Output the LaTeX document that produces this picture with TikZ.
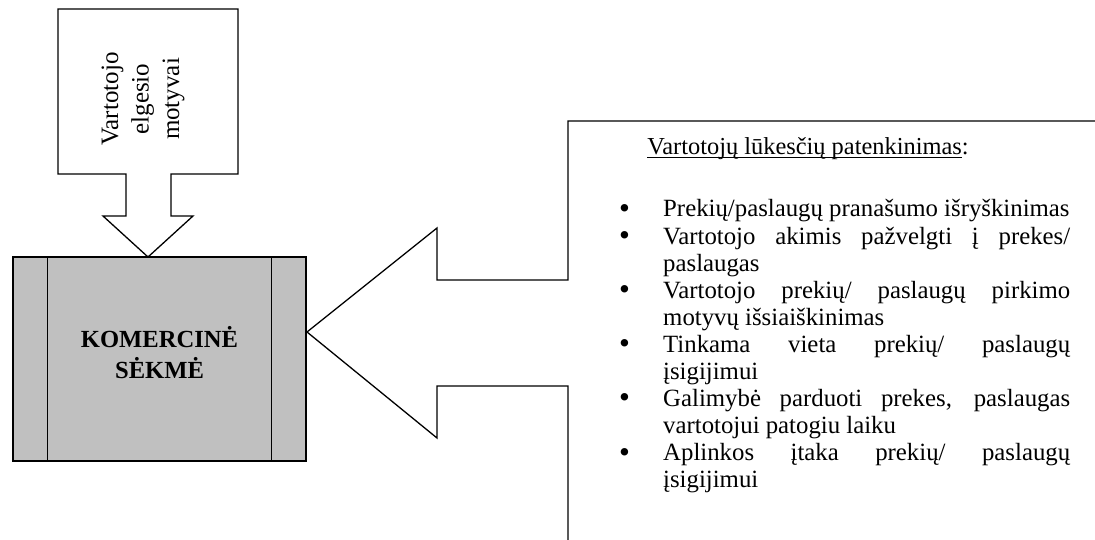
\documentclass[tikz,border=0pt]{standalone}
\usepackage{fontspec}
\usepackage{graphicx}
\setmainfont{Liberation Serif}
\definecolor{boxgray}{RGB}{192,192,192}
% underline drawn at a fixed depth below the baseline
\newcommand\ulined[1]{\setbox0\hbox{#1}\rlap{\rule[-2.8pt]{\wd0}{1.2pt}}\box0}
% one bulleted paragraph with a hanging indent
\newcommand\bulitem{\noindent\hangindent=44pt\hangafter=0%
  \llap{\makebox[44pt][l]{\raisebox{-1.2pt}{\scalebox{1.25}{\textbullet}}}}}
\begin{document}
\begin{tikzpicture}[x=1pt,y=-1pt,
  outline/.style={draw=black,line width=1.3pt,line join=miter},
  bodytext/.style={font=\fontsize{24.4}{27.4}\selectfont,inner sep=0pt},
]
\useasboundingbox (0,0) rectangle (1095,540);

\begin{scope}
  \clip (0,0) rectangle (1095,540);
  % callout on the right, its arrow pointing left
  \draw[outline,fill=white] (568,121) -- (1096,121) -- (1096,560) -- (568,560)
    -- (568,386) -- (437,386) -- (437,438) -- (307,332) -- (437,228)
    -- (437,280) -- (568,280) -- cycle;
\end{scope}

% callout on top, its arrow pointing down
\draw[outline,fill=white] (58,9) -- (238,9) -- (238,174) -- (171,174) -- (171,216)
  -- (193,216) -- (148,257) -- (103,216) -- (126,216) -- (126,174) -- (58,174) -- cycle;

% central process box
\node[outline,fill=boxgray,minimum width=293pt,minimum height=204pt,inner sep=0pt]
  (core) at (159.5,359) {};
\node[inner sep=0pt,font=\fontsize{24.6}{31}\selectfont\bfseries,align=center]
  (coretext) at (159.5,353) {KOMERCINĖ\\SĖKMĖ};
\draw[outline] ([xshift=35pt]core.north west) -- ([xshift=35pt]core.south west);
\draw[outline] ([xshift=-35pt]core.north east) -- ([xshift=-35pt]core.south east);

% text of the top callout
\node[inner sep=0pt,font=\fontsize{25}{30.5}\selectfont,rotate=90,align=center]
  (motives) at (143,99) {Vartotojo\\elgesio\\motyvai};

% heading of the right callout
\node[bodytext,anchor=base] (head) at (808,155)
  {\ulined{Vartotojų lūkesčių patenkinimas}:};

% bulleted list of the right callout
\node[inner sep=0pt,font=\fontsize{24.8}{27.1}\selectfont,anchor=base west,
      text width=451pt,align=justify] (list) at (619,217)
{\tolerance=10000\hyphenpenalty=10000\parindent=0pt
\bulitem Prekių/paslaugų pranašumo išryškinimas\par
\bulitem Vartotojo akimis pažvelgti į prekes/\linebreak paslaugas\par
\bulitem Vartotojo prekių/ paslaugų pirkimo\linebreak motyvų išsiaiškinimas\par
\bulitem Tinkama vieta prekių/ paslaugų\linebreak įsigijimui\par
\bulitem Galimybė parduoti prekes, paslaugas\linebreak vartotojui patogiu laiku\par
\bulitem Aplinkos įtaka prekių/ paslaugų\linebreak įsigijimui\par};
\end{tikzpicture}
\end{document}
